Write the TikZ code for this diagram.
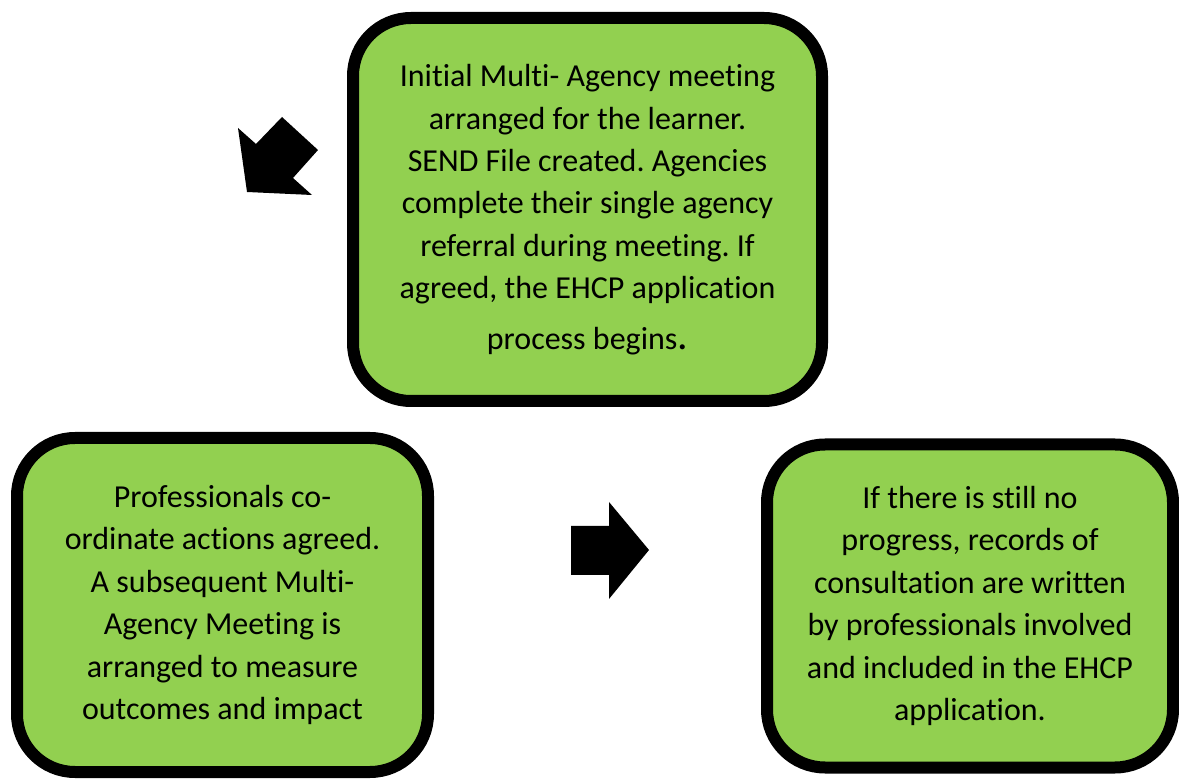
\documentclass[tikz,border=0pt]{standalone}
\usepackage{fontspec}
\setmainfont{Carlito}[Ligatures=NoCommon]
\definecolor{leafgreen}{HTML}{92D050}
\frenchspacing
\begin{document}
\begin{tikzpicture}[x=0.5pt,y=-0.5pt, line join=round,
	stage/.style={draw=black, fill=leafgreen, line width=6pt, rounded corners=29pt,
		align=center, inner sep=0pt, font=\fontsize{16}{21.2}\selectfont}]
	\useasboundingbox (0,0) rectangle (1179,780);
	% the three stages
	\node[stage, minimum width=234.5pt, minimum height=191.5pt] (meeting) at (587.5,209.5)
		{Initial Multi- Agency meeting\\ arranged for the learner.\\ SEND File created. Agencies\\
		 complete their single agency\\ referral during meeting. If\\ agreed, the EHCP application\\[4pt]
		 process begins{\fontsize{21}{21.2}\selectfont .}};
	\node[stage, minimum width=205.5pt, minimum height=167pt] (coordinate) at (222.5,605)
		{Professionals co-\\ ordinate actions agreed.\\ A subsequent Multi-\\ Agency Meeting is\\
		 arranged to measure\\ outcomes and impact};
	\node[stage, minimum width=203pt, minimum height=161.5pt] (records) at (970,606)
		{If there is still no\\ progress, records of\\ consultation are written\\
		 by professionals involved\\ and included in the EHCP\\ application.};
	% block arrows
	\fill (238,128) -- (256,144) -- (282,117) -- (318,150) -- (293,178) -- (312,195) -- (247,192) -- cycle;
	\fill (571,526) -- (609,526) -- (609,502) -- (649,550) -- (609,599) -- (609,575) -- (571,575) -- cycle;
\end{tikzpicture}
\end{document}
